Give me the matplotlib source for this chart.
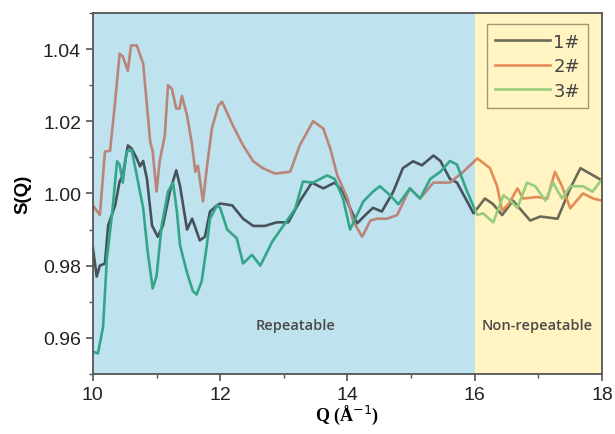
import numpy as np
import matplotlib.pyplot as plt
from matplotlib.ticker import MultipleLocator
from matplotlib.patches import Rectangle

# Sample 1#
q1 = [10.00, 10.06, 10.11, 10.19, 10.24, 10.35, 10.42, 10.47, 10.55, 10.61, 10.69, 10.74,
      10.79, 10.85, 10.93, 11.02, 11.10, 11.21, 11.31, 11.37, 11.48, 11.56, 11.68, 11.76,
      11.84, 11.95, 12.00, 12.19, 12.36, 12.52, 12.70, 12.89, 13.07, 13.25, 13.44, 13.62,
      13.80, 13.93, 14.04, 14.15, 14.28, 14.40, 14.54, 14.72, 14.87, 15.03, 15.17, 15.35,
      15.46, 15.61, 15.72, 15.88, 15.98, 16.16, 16.29, 16.43, 16.60, 16.87, 17.03, 17.30,
      17.50, 17.66, 17.81, 18.00]
s1 = [0.9850, 0.9770, 0.9800, 0.9806, 0.9911, 0.9967, 1.0033, 1.0050, 1.0133, 1.0124, 1.0097, 1.0075,
      1.0090, 1.0040, 0.9911, 0.9880, 0.9911, 1.0005, 1.0064, 1.0020, 0.9900, 0.9930, 0.9870, 0.9880,
      0.9950, 0.9967, 0.9972, 0.9967, 0.9930, 0.9910, 0.9910, 0.9920, 0.9920, 0.9978, 1.0030, 1.0014,
      1.0030, 1.0005, 0.9960, 0.9917, 0.9940, 0.9960, 0.9950, 1.0005, 1.0070, 1.0089, 1.0078, 1.0105,
      1.0090, 1.0040, 1.0030, 0.9978, 0.9945, 0.9986, 0.9970, 0.9940, 0.9980, 0.9925, 0.9936, 0.9930,
      1.0014, 1.0070, 1.0055, 1.0036]

# Sample 2#
q2 = [10.00, 10.11, 10.19, 10.27, 10.35, 10.42, 10.47, 10.55, 10.60, 10.69, 10.79, 10.85,
      10.90, 10.94, 11.00, 11.05, 11.13, 11.18, 11.24, 11.31, 11.36, 11.40, 11.48, 11.56,
      11.61, 11.65, 11.73, 11.79, 11.87, 11.97, 12.03, 12.20, 12.36, 12.52, 12.67, 12.86,
      13.10, 13.25, 13.46, 13.62, 13.73, 13.84, 14.00, 14.09, 14.23, 14.36, 14.47, 14.62,
      14.78, 14.98, 15.14, 15.35, 15.61, 15.82, 16.04, 16.24, 16.35, 16.43, 16.53, 16.67,
      16.76, 16.98, 17.14, 17.26, 17.37, 17.50, 17.70, 17.86, 18.00]
s2 = [0.9967, 0.9940, 1.0116, 1.0118, 1.0254, 1.0387, 1.0380, 1.0340, 1.0410, 1.0410, 1.0360, 1.0243,
      1.0144, 1.0116, 1.0005, 1.0090, 1.0160, 1.0300, 1.0290, 1.0235, 1.0235, 1.0270, 1.0216, 1.0133,
      1.0060, 1.0077, 0.9978, 1.0070, 1.0180, 1.0243, 1.0254, 1.0188, 1.0133, 1.0089, 1.0070, 1.0055,
      1.0060, 1.0133, 1.0200, 1.0180, 1.0124, 1.0050, 0.9986, 0.9923, 0.9880, 0.9925, 0.9930, 0.9930,
      0.9940, 1.0014, 0.9986, 1.0030, 1.0030, 1.0060, 1.0097, 1.0070, 1.0020, 0.9953, 0.9970, 1.0014,
      0.9986, 0.9990, 0.9986, 1.0060, 1.0020, 0.9959, 1.0000, 0.9986, 0.9980]

# Sample 3#
q3 = [10.03, 10.08, 10.16, 10.22, 10.30, 10.38, 10.42, 10.47, 10.53, 10.61, 10.69, 10.79,
      10.86, 10.94, 11.00, 11.08, 11.18, 11.26, 11.32, 11.37, 11.48, 11.57, 11.63, 11.71,
      11.79, 11.84, 11.95, 12.00, 12.11, 12.26, 12.36, 12.50, 12.63, 12.82, 12.99, 13.18,
      13.30, 13.46, 13.68, 13.80, 13.93, 14.04, 14.25, 14.40, 14.51, 14.67, 14.80, 14.98,
      15.14, 15.30, 15.46, 15.61, 15.72, 15.88, 16.04, 16.13, 16.29, 16.45, 16.56, 16.67,
      16.82, 16.95, 17.11, 17.23, 17.37, 17.50, 17.70, 17.85, 18.00]
s3 = [0.9560, 0.9557, 0.9630, 0.9820, 0.9940, 1.0089, 1.0080, 1.0030, 1.0116, 1.0120, 1.0050, 0.9960,
      0.9840, 0.9737, 0.9770, 0.9910, 1.0005, 1.0030, 0.9950, 0.9856, 0.9780, 0.9730, 0.9720, 0.9757,
      0.9856, 0.9930, 0.9967, 0.9960, 0.9900, 0.9876, 0.9806, 0.9830, 0.9800, 0.9867, 0.9910, 0.9958,
      1.0033, 1.0030, 1.0050, 1.0040, 0.9986, 0.9900, 0.9978, 1.0005, 1.0020, 0.9995, 0.9970, 1.0014,
      0.9986, 1.0040, 1.0060, 1.0090, 1.0080, 1.0005, 0.9940, 0.9945, 0.9920, 0.9995, 0.9980, 0.9960,
      1.0030, 1.0020, 0.9980, 1.0030, 0.9986, 1.0020, 1.0020, 1.0005, 1.0040]

labels = ['1#', '2#', '3#']
# line colours as they appear over the blue and the yellow region
colors_blue = ['#46525a', '#b9857a', '#33a68a']
colors_yellow = ['#6b6a58', '#e38d56', '#98cc7e']

split_q = 16
fig = plt.figure(figsize=(6.15, 4.35), dpi=100)
ax = fig.add_axes([0.151, 0.138, 0.828, 0.830])

# background regions
ax.axvspan(10, split_q, color='#bfe3ee', lw=0)
ax.axvspan(split_q, 18, color='#fff4c2', lw=0)

handles = []
for q, s, lab, cb, cy in zip([q1, q2, q3], [s1, s2, s3], labels, colors_blue, colors_yellow):
    lb, = ax.plot(q, s, color=cb, lw=1.9)
    lb.set_clip_path(Rectangle((10, 0.9), split_q - 10, 0.2, transform=ax.transData))
    ly, = ax.plot(q, s, color=cy, lw=1.9, label=lab)
    ly.set_clip_path(Rectangle((split_q, 0.9), 18 - split_q, 0.2, transform=ax.transData))
    handles.append(ly)

ax.text(13.18, 0.9635, 'Repeatable', ha='center', va='center', fontsize=10.5,
        color='#4a4a4a', family='Open Sans', fontweight='semibold')
ax.text(16.98, 0.9635, 'Non-repeatable', ha='center', va='center', fontsize=10.5,
        color='#4a4a4a', family='Open Sans', fontweight='semibold')

ax.set_xlim(10, 18)
ax.set_ylim(0.95, 1.05)
ax.xaxis.set_major_locator(MultipleLocator(2))
ax.xaxis.set_minor_locator(MultipleLocator(1))
ax.yaxis.set_minor_locator(MultipleLocator(0.01))
ax.set_yticks([0.96, 0.98, 1.00, 1.02, 1.04])
ax.set_yticklabels(['0.96', '0.98', '1.00', '1.02', '1.04'])
ax.tick_params(which='major', direction='out', length=5, width=1.2, labelsize=14,
               colors='#555555', labelcolor='#222222')
ax.tick_params(which='minor', direction='out', length=3, width=1.0, colors='#555555')
for lab in ax.get_xticklabels() + ax.get_yticklabels():
    lab.set_family('Liberation Sans')
for sp in ax.spines.values():
    sp.set_color('#555555')
    sp.set_linewidth(1.3)

ax.set_ylabel('S(Q)', fontsize=13.5, fontweight='bold', family='Liberation Sans', labelpad=8)
ax.set_xlabel('Q (Å$^{-1}$)', fontsize=13, fontweight='bold', family='Liberation Serif', labelpad=0)

leg = ax.legend(handles=handles, loc='upper right', bbox_to_anchor=(0.99, 0.993), fontsize=13,
                frameon=True, fancybox=False, handlelength=3.0, handletextpad=0.2,
                borderpad=0.45, labelspacing=0.36)
leg.get_frame().set_edgecolor('#8a8060')
leg.get_frame().set_facecolor('none')
leg.get_frame().set_linewidth(1.0)
for t in leg.get_texts():
    t.set_color('#444444')

fig.savefig('out.png', dpi=100)
